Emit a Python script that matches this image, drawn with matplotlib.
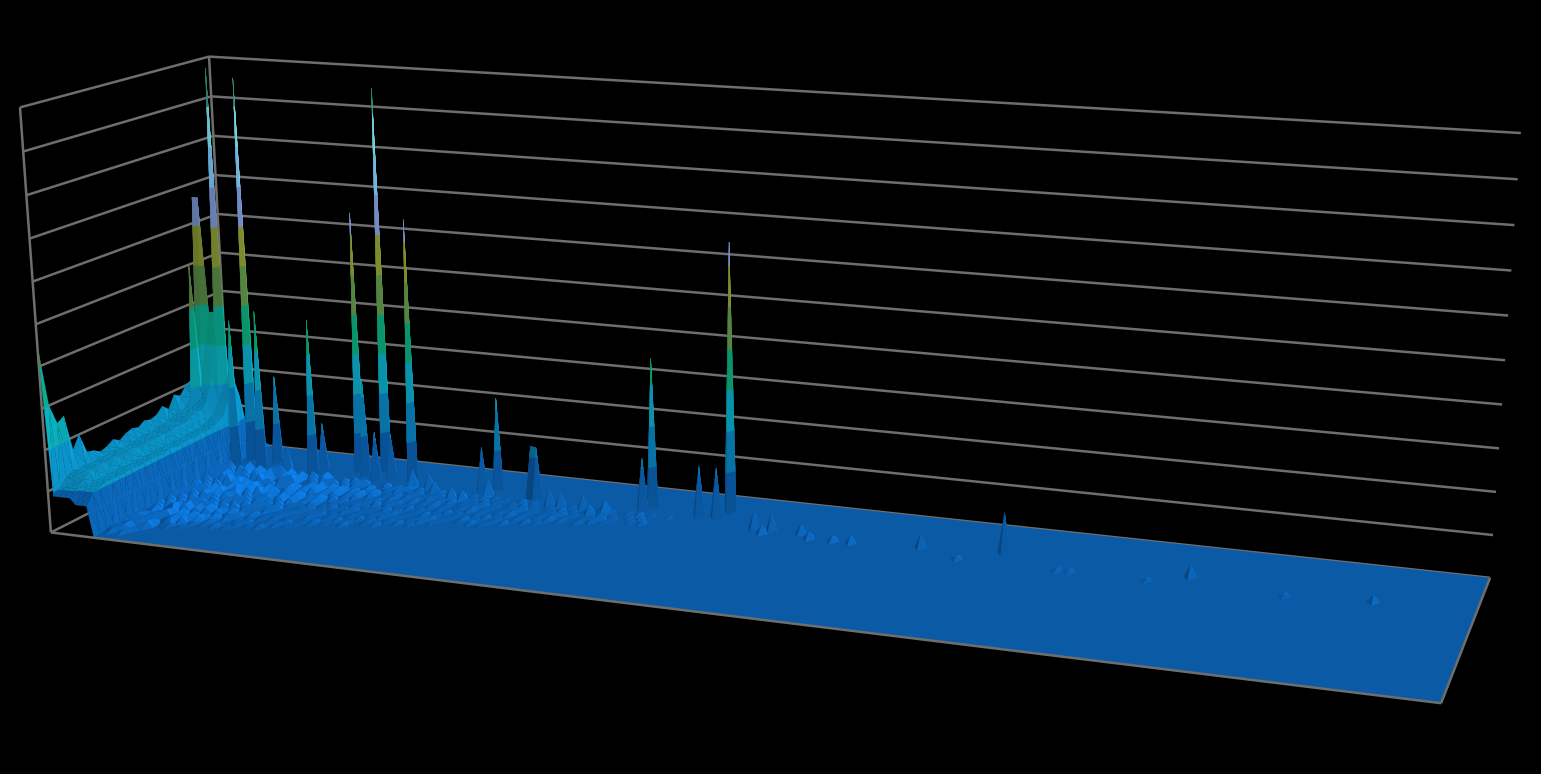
import numpy as np
import matplotlib
matplotlib.use('Agg')
import matplotlib.pyplot as plt
from mpl_toolkits.mplot3d.art3d import Poly3DCollection, Line3DCollection

n_cols = 220
n_rows = 30
z_top = 10
wall_cols = 8

# surface heights next to the left wall, one value per row (front to back)
ridge_top = [4.5, 3.0, 2.5, 2.6, 1.7, 2.0, 1.5, 1.45, 1.35, 1.4, 1.5, 1.4, 1.5, 1.55, 1.5,
             1.6, 1.55, 1.6, 1.75, 1.6, 1.9, 1.8, 2.0, 2.0, 2.0, 1.6, 1.0, 0.5, 0.3, 0.2]
ridge_mid = [0.9, 1.05, 1.2, 1.3, 1.25, 1.3, 1.25, 1.3, 1.25, 1.3, 1.3, 1.25, 1.3, 1.3, 1.35,
             1.3, 1.35, 1.4, 1.35, 1.45, 1.5, 1.5, 1.7, 2.2, 3.8, 2.5, 0.9, 0.5, 0.3, 0.2]
ridge_low = [0.75, 1.0, 1.05, 1.1, 1.1, 1.08, 1.1, 1.12, 1.08, 1.1, 1.12, 1.1, 1.1, 1.15, 1.1,
             1.12, 1.15, 1.1, 1.15, 1.12, 1.15, 1.2, 1.3, 1.6, 2.2, 1.6, 0.7, 0.4, 0.2, 0.1]

# tall peaks: column, row, height
peak_cols = [1, 2, 3, 2, 5, 9, 8, 13, 14, 23, 24, 30, 32, 34, 35, 37, 41, 18,
             57, 55, 64, 65, 57, 43, 46, 48, 52, 54, 69, 71, 75, 79, 77, 84, 85, 94, 97, 98,
             105, 108, 107, 113, 115, 119, 122, 133, 146, 176, 204,
             140, 158, 156, 170, 191]
peak_rows = [24, 24, 26, 22, 24, 25, 23, 23, 25, 23, 24, 25, 24, 26, 23, 24, 24, 23,
             24, 23, 23, 23, 22, 22, 22, 21, 20, 20, 21, 21, 21, 21, 20, 23, 24, 23, 23, 25,
             21, 21, 20, 21, 20, 20, 20, 21, 22, 21, 20,
             19, 19, 19, 19, 19]
peak_vals = [6.7, 6.7, 6.5, 5.1, 9.95, 9.7, 3.7, 4.0, 2.2, 3.9, 1.2, 6.55, 2.4, 9.6, 1.2, 1.1, 6.55, 0.6,
             2.3, 1.1, 1.25, 1.25, 0.4, 0.45, 0.4, 0.3, 0.3, 0.25, 0.45, 0.4, 0.35, 0.3, 0.25, 1.25, 3.65, 1.2, 1.2, 6.55,
             0.45, 0.45, 0.2, 0.25, 0.18, 0.15, 0.2, 0.35, 0.95, 0.32, 0.15,
             0.08, 0.05, 0.05, 0.05, 0.05]

# low ripples on the floor: one string per row starting at column 8, digit = 0.03 units
ripple_start_row = 2
ripple_rows = [
    "2303",
    "32403",
    "0340250",
    "40350403201",
    "350460340502010201",
    "04305604030502010020102",
    "4060350604030503010200102010",
    "050360704050402030201010020101",
    "50604070506030402030102010010201002",
    "0604060705040603020401020102001020100102",
    "605070506040605030204010201020100102010010201",
    "06070605070406040305020102010102010010201001020100",
    "70600508064070053060402030102010201001020100102010010201",
    "08060705070608040060502040020102010102010010201001020100102",
    "7060800506080507040060305040201020302010201001020100102010010201",
    "08000908070605000604050304020301020102010102010010201001020100102010010",
    "9006070500906080050406030502040301020102010201001020100102010010201001020100",
    "09080070906005080004060504030204010202010201020101020100102010010201001020100102",
    "80900706009008060050706040500400203010201020102010201001020100102010010201001020",
    "09050907000908060700800406050004020302010201020102010100201001020100102010010201001",
]

# band colours, one per unit of height
band_colors = ['#0A5AA5', '#0A7FB8', '#0BA3BE', '#0CA678', '#5F9448',
               '#8A9C34', '#7F9CDC', '#80C8F8', '#80E8F0', '#38A088', '#1C4A44']
wall_colors = ['#0A64B4', '#0A8FC2', '#0AA2AE', '#0A9C84', '#4F7C3E',
               '#7A8A30', '#6F88C0', '#70B4E2', '#70D2D8', '#2F8A72', '#1C4A44']
line_color = '#6E6E6E'

# pixel positions of the box corners, used to fit the chart's perspective
box_points = [(0, 0, 0), (1, 0, 0), (1, 1, 0), (0, 1, 0), (0, 0, 1), (1, 1, 1), (0, 1, 1)]
box_pixels = [(50, 533), (1441, 703), (1490, 578), (231, 441), (21, 107), (1521, 133), (208, 57)]


def fit_projection():
    rows = []
    for (x, y, z), (u, v) in zip(box_points, box_pixels):
        X = [x, y, z, 1]
        rows.append(X + [0, 0, 0, 0] + [-u * c for c in X])
        rows.append([0, 0, 0, 0] + X + [-v * c for c in X])
    p = np.linalg.svd(np.array(rows, dtype=float))[2][-1].reshape(3, 4)
    if p[2, 3] < 0:
        p = -p
    p = p / p[2, 3]
    scale = np.diag([1 / (n_cols - 1), 1 / (n_rows - 1), 1 / z_top, 1])
    p = p @ scale
    return np.vstack([p[0], p[1], [0, 0, 0, -1], p[2]])


def clip_poly(poly, level, keep_above):
    out = []
    for i in range(len(poly)):
        a, b = poly[i], poly[(i + 1) % len(poly)]
        a_in = a[2] >= level if keep_above else a[2] <= level
        b_in = b[2] >= level if keep_above else b[2] <= level
        if a_in:
            out.append(a)
        if a_in != b_in:
            f = (level - a[2]) / (b[2] - a[2])
            out.append(a + f * (b - a))
    return out


def shade_of(tri, band, on_wall):
    metric = np.array([1.0, 1.0, 4.0])
    n = np.cross((tri[1] - tri[0]) * metric, (tri[2] - tri[0]) * metric)
    n = n / np.linalg.norm(n)
    if n[2] < 0:
        n = -n
    if on_wall:
        return 1 + 0.05 * n[0] + 0.15 * n[1]
    shade = 1 + 0.1 * n[0] + 0.25 * n[1]
    if band == 0 and n[0] > 0:
        shade += 0.7 * n[0] * n[2]
    return shade


heights = np.zeros((n_rows, n_cols))
heights[:, 0] = ridge_top
heights[:, 1:5] = np.array(ridge_mid)[:, None]
heights[:, 5:wall_cols] = np.array(ridge_low)[:, None]
for r, text in enumerate(ripple_rows):
    for c, ch in enumerate(text):
        heights[ripple_start_row + r, wall_cols + c] = int(ch) * 0.03
for c, r, v in zip(peak_cols, peak_rows, peak_vals):
    heights[r, c] = v

# cut the sheet into triangles and the triangles into colour bands
faces = []
colors = []
for r in range(n_rows - 1):
    for c in range(n_cols - 1):
        corner = heights[r:r + 2, c:c + 2]
        if corner.max() == 0:
            continue
        p00 = np.array([c, r, corner[0, 0]])
        p10 = np.array([c + 1, r, corner[0, 1]])
        p01 = np.array([c, r + 1, corner[1, 0]])
        p11 = np.array([c + 1, r + 1, corner[1, 1]])
        if abs(p00[2] - p11[2]) <= abs(p10[2] - p01[2]):
            tris = [(p00, p10, p11), (p00, p11, p01)]
        else:
            tris = [(p00, p10, p01), (p10, p11, p01)]
        on_wall = c < wall_cols and r < 26
        palette = wall_colors if on_wall else band_colors
        for tri in tris:
            zs = [t[2] for t in tri]
            if max(zs) == 0:
                continue
            for band in range(int(min(zs)), int(np.ceil(max(zs)))):
                piece = clip_poly(list(tri), band, True)
                if piece:
                    piece = clip_poly(piece, band + 1, False)
                if len(piece) < 3:
                    continue
                faces.append(np.array(piece))
                rgb = np.array(matplotlib.colors.to_rgb(palette[band]))
                colors.append(np.clip(rgb * shade_of(tri, band, on_wall), 0, 1))

fig = plt.figure(figsize=(15.41, 7.74), dpi=100, facecolor='black')
ax = fig.add_axes([0, 0, 1, 1], projection='3d', facecolor='black')
M = fit_projection()
ax.get_proj = lambda: M
ax.apply_aspect = lambda position=None: None
ax.computed_zorder = False
ax.set_axis_off()
ax.viewLim.intervalx = (0, 1541)
ax.viewLim.intervaly = (774, 0)

x_end = n_cols - 1
y_end = n_rows - 1
wall_lines = [[(0, 0, 0), (0, 0, z_top)], [(0, y_end, 0), (0, y_end, z_top)]]
for z in range(z_top + 1):
    wall_lines.append([(0, 0, z), (0, y_end, z)])
    wall_lines.append([(0, y_end, z), (x_end, y_end, z)])
ax.add_collection3d(Line3DCollection(wall_lines, colors=line_color, linewidths=1.8, zorder=1), autolim=False)

floor = Poly3DCollection([[(wall_cols, 0, 0), (x_end, 0, 0), (x_end, y_end, 0), (wall_cols, y_end, 0)]],
                         facecolors=band_colors[0], edgecolors='none', zorder=2)
ax.add_collection3d(floor, autolim=False)

surface = Poly3DCollection(faces, facecolors=colors, edgecolors=colors, linewidths=0.2, zorder=3)
ax.add_collection3d(surface, autolim=False)

rim = [[(0, 0, 0), (x_end, 0, 0)], [(x_end, 0, 0), (x_end, y_end, 0)]]
ax.add_collection3d(Line3DCollection(rim, colors=line_color, linewidths=1.8, zorder=4), autolim=False)

fig.savefig('out.png', dpi=100, facecolor='black')
